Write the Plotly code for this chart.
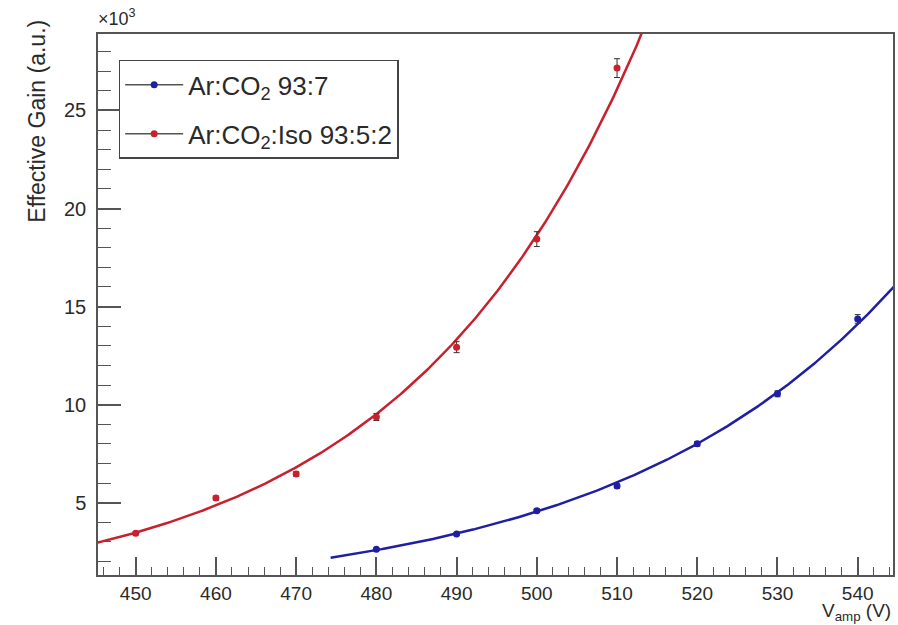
import numpy as np
import plotly.graph_objects as go

# Data (gain in units of 10^3)
v_blue = [480, 490, 500, 510, 520, 530, 540]
g_blue = [2.62, 3.40, 4.59, 5.85, 8.00, 10.55, 14.37]
e_blue = [0.05, 0.06, 0.08, 0.10, 0.12, 0.15, 0.22]

v_red = [450, 460, 470, 480, 490, 500, 510]
g_red = [3.44, 5.24, 6.46, 9.37, 12.93, 18.44, 27.16]
e_red = [0.08, 0.10, 0.12, 0.18, 0.28, 0.38, 0.48]

name_blue = "Ar:CO<sub>2</sub> 93:7"
name_red = "Ar:CO<sub>2</sub>:Iso 93:5:2"

fit_range_blue = (474.3, 545.0)
fit_range_red = (445.0, 516.0)

x_range = [445.3, 544.4]
y_range = [1.311, 28.9]

blue = "#1f1fa3"
red = "#c9202e"
font_family = "Liberation Sans, Arial, sans-serif"
txt = "#2a2a2a"


def expfit(x, y, rng):
    p = np.polyfit(np.asarray(x, float), np.log(np.asarray(y, float)), 1)
    xs = np.linspace(rng[0], rng[1], 300)
    return xs, np.exp(np.polyval(p, xs))


fig = go.Figure()

for xv, yv, ev, col, nm, rng, grp in [
    (v_blue, g_blue, e_blue, blue, name_blue, fit_range_blue, "b"),
    (v_red, g_red, e_red, red, name_red, fit_range_red, "r"),
]:
    fx, fy = expfit(xv, yv, rng)
    fig.add_trace(go.Scatter(x=fx, y=fy, mode="lines",
                             line=dict(color=col, width=2.5),
                             showlegend=False, hoverinfo="skip", legendgroup=grp))
    fig.add_trace(go.Scatter(x=xv, y=yv, mode="markers",
                             marker=dict(color=col, size=7),
                             error_y=dict(type="data", array=ev, color="#333333",
                                          thickness=1, width=3),
                             showlegend=False, legendgroup=grp))
    fig.add_trace(go.Scatter(x=[None], y=[None], mode="lines+markers", name=nm,
                             legendgroup=grp,
                             line=dict(color="#555555", width=1.5),
                             marker=dict(color=col, size=7)))

axis_line = dict(
    showline=True, linecolor="#555555", linewidth=1.5, mirror=True,
    showgrid=False, zeroline=False, ticks="inside", tickcolor="#555555",
)

fig.update_xaxes(range=x_range, tickmode="linear", tick0=450, dtick=10,
                 ticklen=18, tickwidth=1.5,
                 tickfont=dict(family=font_family, size=19, color=txt),
                 minor=dict(dtick=2, ticks="inside", ticklen=8, tickcolor="#555555", tickwidth=1.2),
                 **axis_line)
fig.update_yaxes(range=y_range, tickmode="linear", tick0=0, dtick=5,
                 ticklen=23, tickwidth=1.5, ticklabelstandoff=6,
                 tickfont=dict(family=font_family, size=20, color=txt),
                 minor=dict(dtick=1, ticks="inside", ticklen=13, tickcolor="#555555", tickwidth=1.2),
                 **axis_line)

fig.update_layout(
    width=898, height=625,
    margin=dict(l=98, r=3, t=34, b=50),
    paper_bgcolor="white", plot_bgcolor="white",
    font=dict(family=font_family, color=txt),
    legend=dict(x=0.026, y=0.952, xanchor="left", yanchor="top",
                bordercolor="#444444", borderwidth=1.5, bgcolor="white",
                font=dict(family=font_family, size=26, color=txt),
                tracegroupgap=12, traceorder="grouped", itemwidth=58),
    annotations=[
        dict(text="Effective Gain (a.u.)", textangle=-90, xref="paper", yref="paper",
             x=(36 - 98) / 797, y=(575 - 18) / 541, xanchor="center", yanchor="top",
             showarrow=False, font=dict(family=font_family, size=23, color=txt)),
        dict(text="V<sub>amp</sub> (V)", xref="paper", yref="paper",
             x=1.0, y=(575 - 612) / 541, xanchor="right", yanchor="middle",
             showarrow=False, font=dict(family=font_family, size=19, color=txt)),
        dict(text="×10<sup>3</sup>", xref="paper", yref="paper",
             x=-0.002, y=(575 - 17) / 541, xanchor="left", yanchor="middle",
             showarrow=False, font=dict(family=font_family, size=18, color=txt)),
    ],
)

fig.write_html("out.html")
